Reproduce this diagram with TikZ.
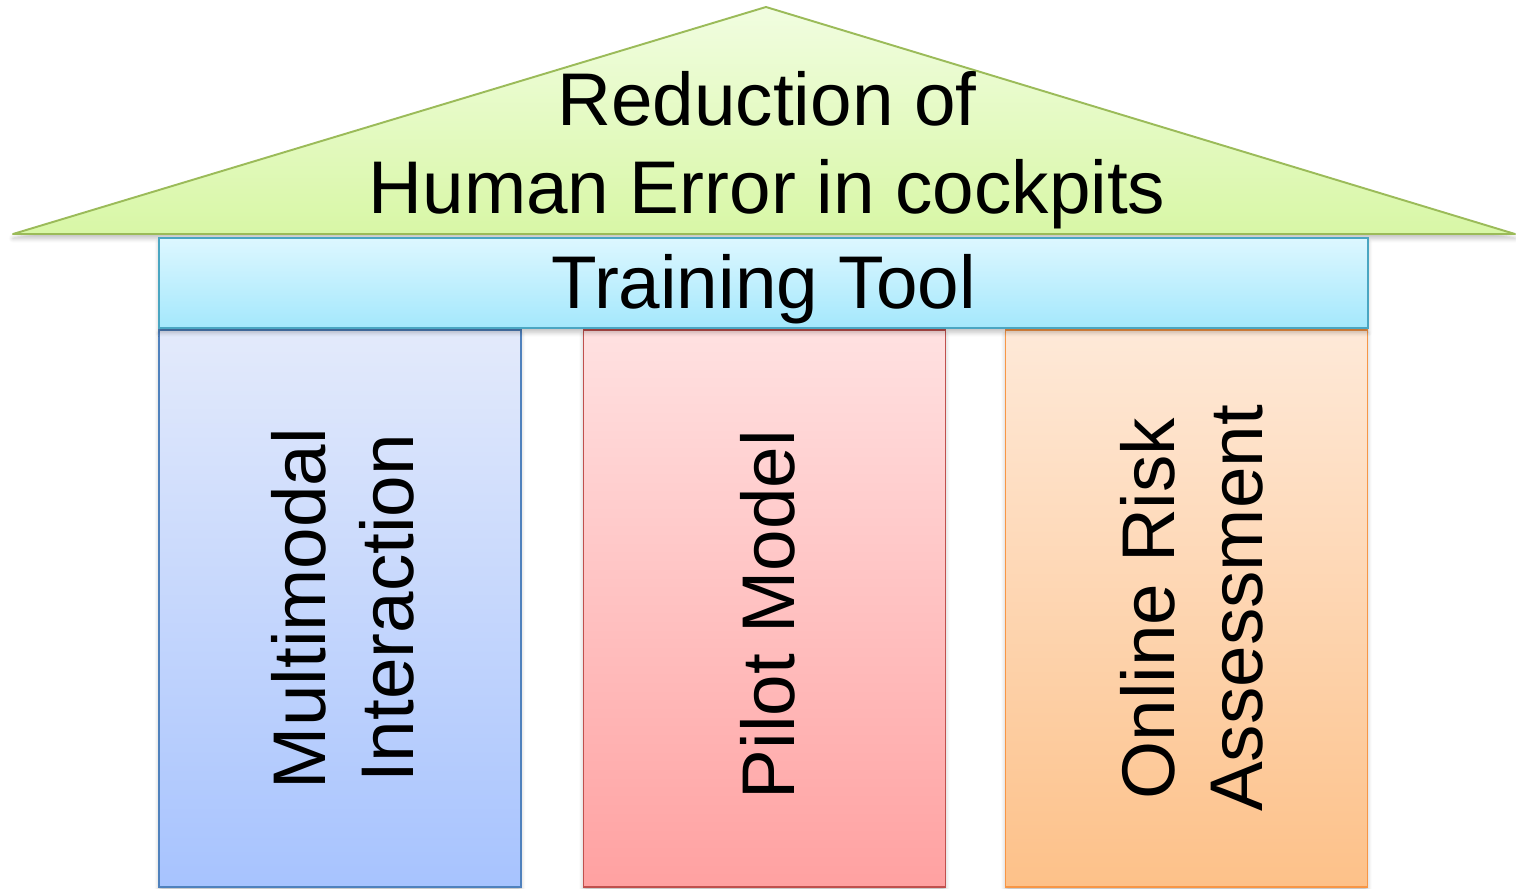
\documentclass[tikz,border=0pt]{standalone}
\usepackage{fontspec}
\setmainfont{Liberation Sans}
\usetikzlibrary{shadows.blur}
\definecolor{roofTop}{HTML}{F1FDE0}
\definecolor{roofBot}{HTML}{D8F7A6}
\definecolor{roofLine}{HTML}{9BBB59}
\definecolor{beamTop}{HTML}{DDF7FF}
\definecolor{beamBot}{HTML}{A4E8FC}
\definecolor{beamLine}{HTML}{4AA6C2}
\definecolor{blueTop}{HTML}{E3EAFB}
\definecolor{blueBot}{HTML}{A7C3FE}
\definecolor{blueLine}{HTML}{4F81BD}
\definecolor{redTop}{HTML}{FFE1E1}
\definecolor{redBot}{HTML}{FFA1A1}
\definecolor{redLine}{HTML}{C0504D}
\definecolor{orangeTop}{HTML}{FEE9D8}
\definecolor{orangeBot}{HTML}{FDC189}
\definecolor{orangeLine}{HTML}{F79646}
\tikzset{
  softshadow/.style={blur shadow={shadow xshift=0pt, shadow yshift=-2.5pt, shadow blur steps=6, shadow blur radius=2.5pt, shadow opacity=25}},
  pillar/.style={draw, line width=1.1pt, inner sep=0pt, minimum width=362*0.02cm, minimum height=557*0.02cm, softshadow},
  bigtext/.style={align=center, font=\fontsize{42.5}{50}\selectfont},
  pillartext/.style={bigtext, rotate=90},
}
\begin{document}
\begin{tikzpicture}[x=0.02cm, y=-0.02cm]
  \useasboundingbox (0,0) rectangle (1516,889);
  % roof
  \coordinate (apex) at (766,7);
  \coordinate (eaveL) at (13,234);
  \coordinate (eaveR) at (1515,234);
  \path[draw=roofLine, line width=1.1pt, line join=round, top color=roofTop, bottom color=roofBot, softshadow]
    (eaveL) -- (apex) -- (eaveR) -- cycle;
  \node (roof) at (767,150) [bigtext] {Reduction of\\Human Error in cockpits};
  % pillars
  \node (p1) at (340,608.5) [pillar, draw=blueLine, top color=blueTop, bottom color=blueBot] {};
  \node (p2) at (764.5,608.5) [pillar, draw=redLine, top color=redTop, bottom color=redBot] {};
  \node (p3) at (1186.5,608.5) [pillar, draw=orangeLine, top color=orangeTop, bottom color=orangeBot] {};
  \node at ([xshift=0.06cm]p1.center) [pillartext] {Multimodal\\Interaction};
  \node at ([xshift=0.06cm, yshift=-0.12cm]p2.center) [pillartext] {Pilot Model};
  \node at ([xshift=0.1cm]p3.center) [pillartext] {Online Risk\\Assessment};
  % beam
  \node (beam) at (763.5,283) [draw=beamLine, line width=1.1pt, inner sep=0pt, minimum width=1209*0.02cm, minimum height=90*0.02cm, top color=beamTop, bottom color=beamBot, softshadow] {};
  \node at ([yshift=-0.12cm]beam.center) [bigtext] {Training Tool};
\end{tikzpicture}
\end{document}
